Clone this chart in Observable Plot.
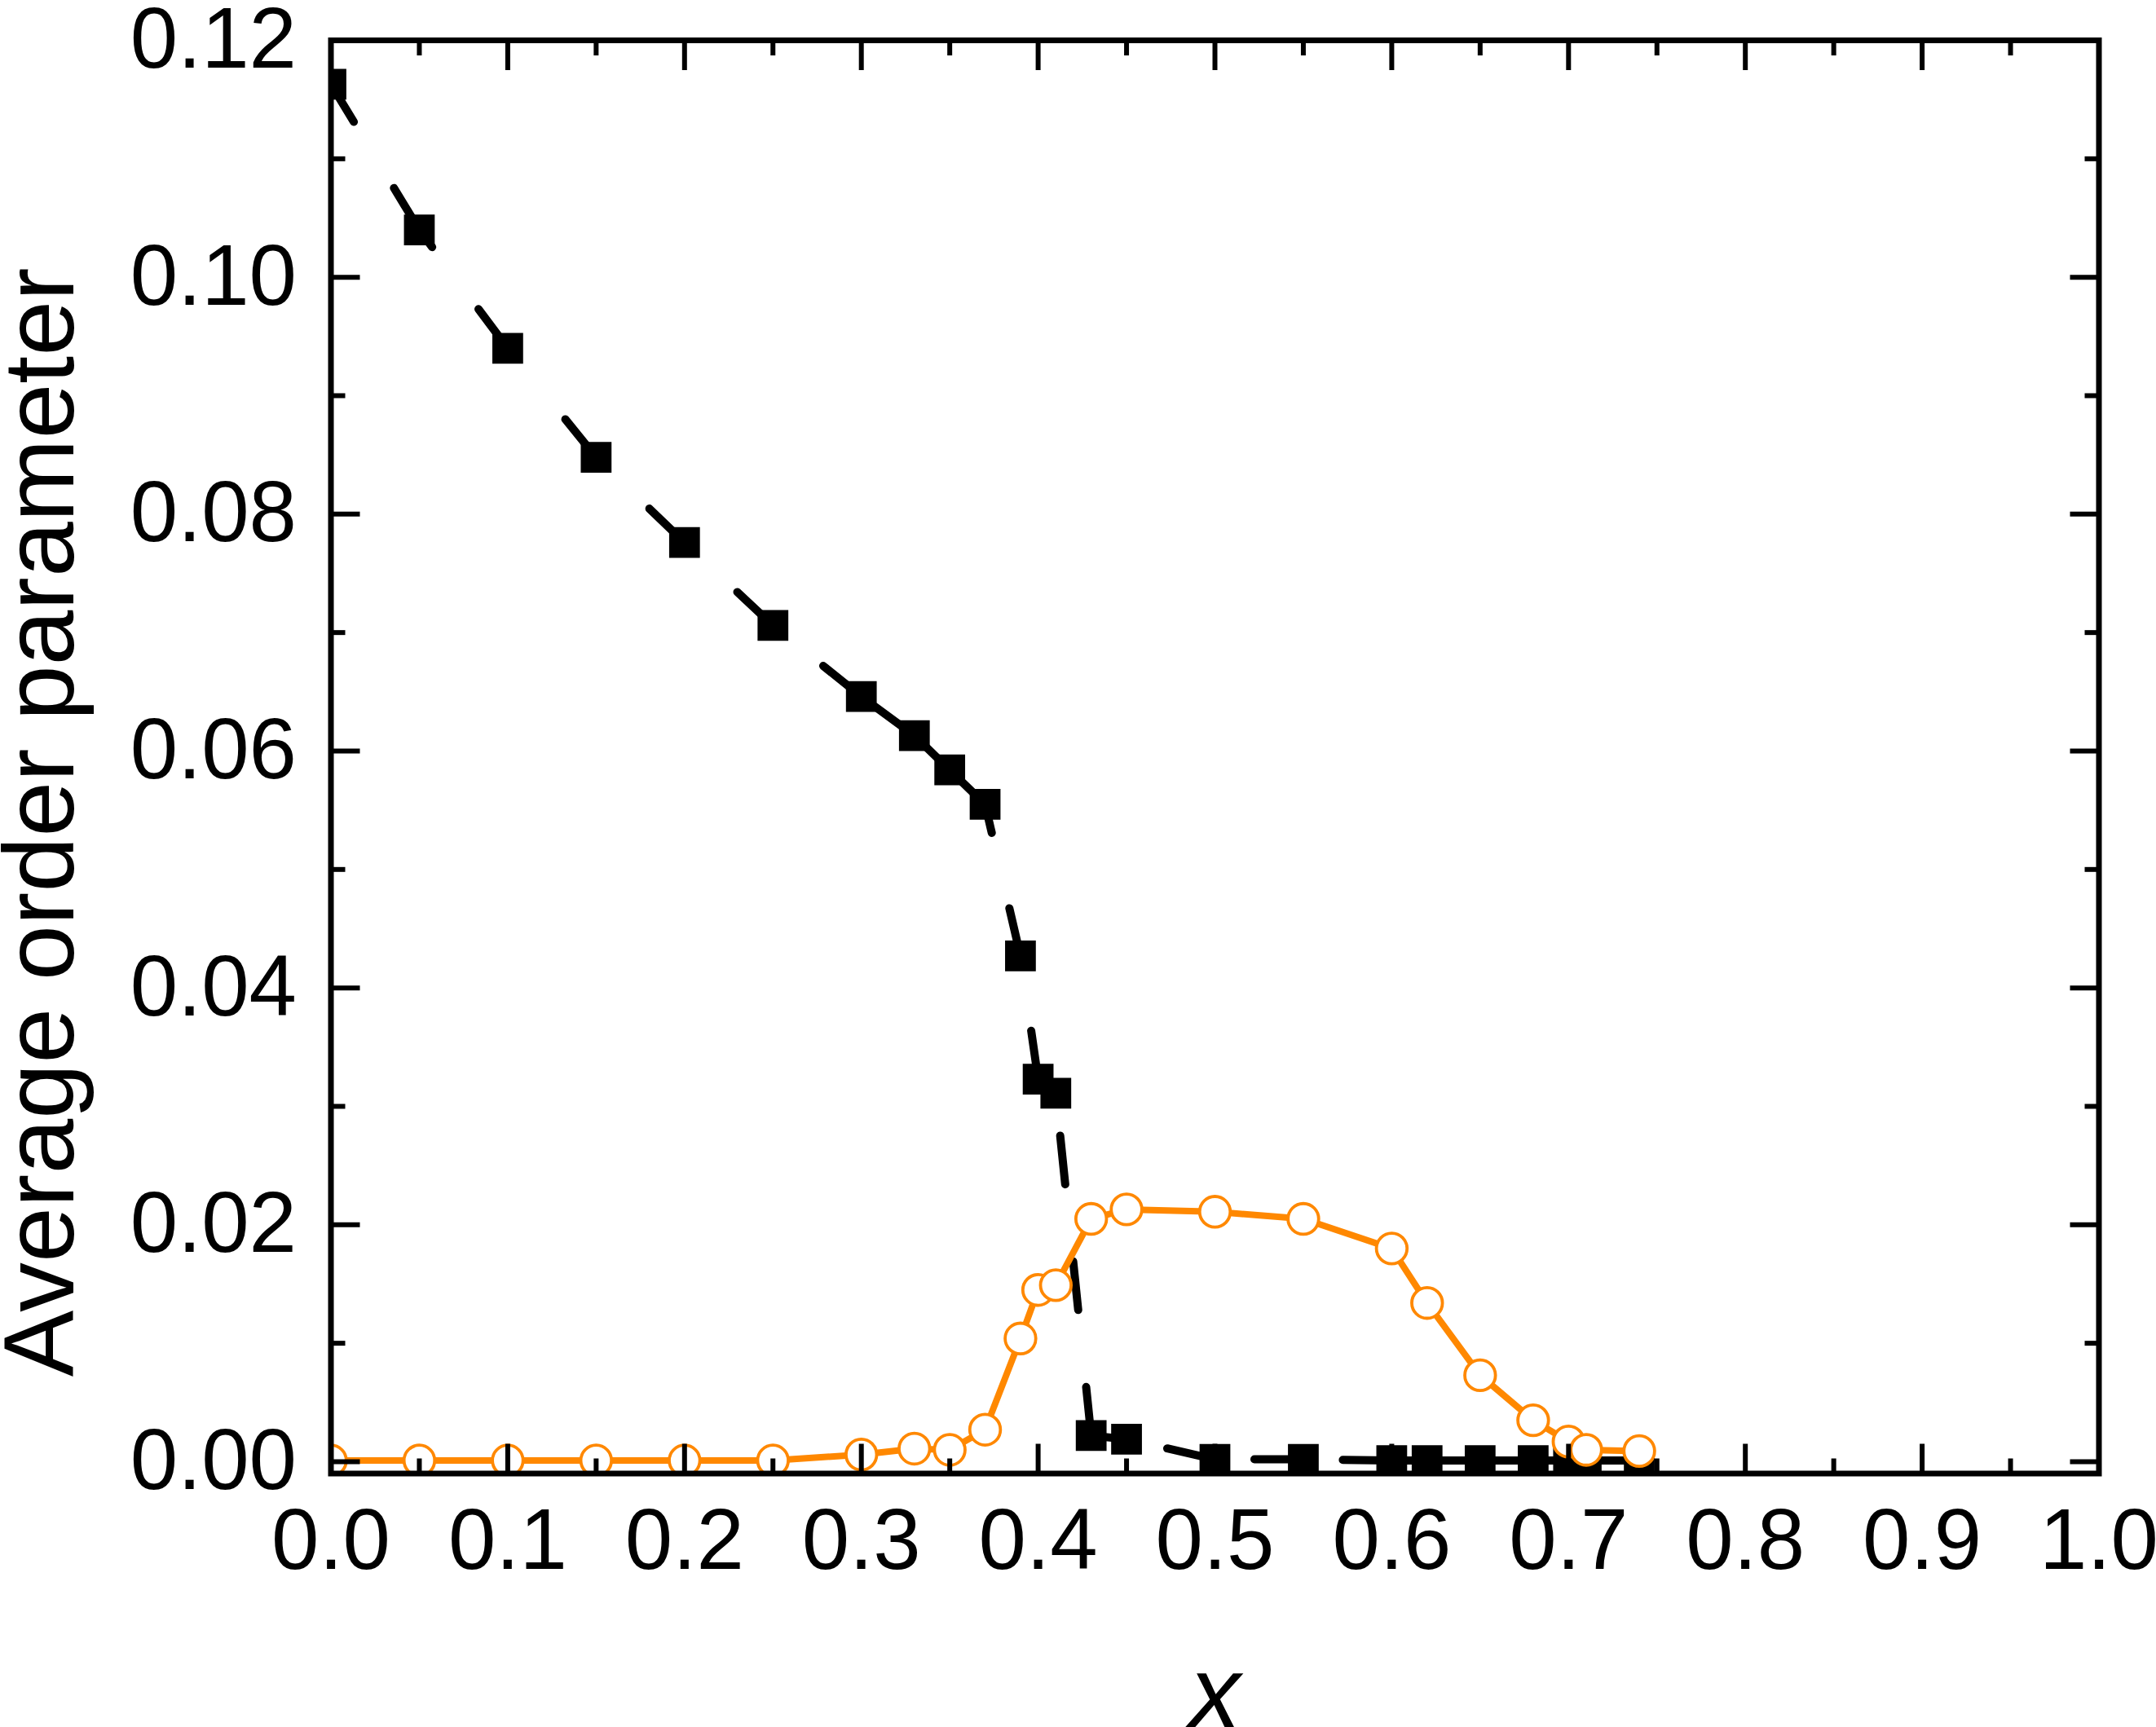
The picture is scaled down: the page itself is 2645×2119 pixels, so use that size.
<!DOCTYPE html>
<html>
<head>
<meta charset="utf-8">
<script src="https://cdn.jsdelivr.net/npm/d3@7"></script>
<script src="https://cdn.jsdelivr.net/npm/@observablehq/plot@0.6"></script>
<style>
  html, body { margin: 0; padding: 0; background: #ffffff; }
  #chart svg { display: block; }
</style>
</head>
<body>
<div id="chart"></div>
<script>
// ---- data ----
const xValues = [0, 0.05, 0.1, 0.15, 0.2, 0.25, 0.3, 0.33, 0.35, 0.37, 0.39, 0.40, 0.41, 0.43, 0.45, 0.5, 0.55, 0.6, 0.62, 0.65, 0.68, 0.70, 0.71, 0.74];
const blackValues = [0.1163, 0.1040, 0.0940, 0.0848, 0.0776, 0.0706, 0.0646, 0.0613, 0.0584, 0.0555, 0.0427, 0.0323, 0.0311, 0.0022, 0.0019, 0.0002, 0.0002, 0.0001, 0.0001, 0.0001, 0.0001, 0.0001, 0.0001, 0.0001];
const orangeValues = [0.0001, 0.0001, 0.0001, 0.0001, 0.0001, 0.0001, 0.0006, 0.0011, 0.0010, 0.0027, 0.0104, 0.0145, 0.0149, 0.0205, 0.0213, 0.0211, 0.0205, 0.0180, 0.0134, 0.0073, 0.0035, 0.0017, 0.0010, 0.0009];

const xMajorTicks = [0, 0.1, 0.2, 0.3, 0.4, 0.5, 0.6, 0.7, 0.8, 0.9, 1.0];
const xMinorTicks = [0.05, 0.15, 0.25, 0.35, 0.45, 0.55, 0.65, 0.75, 0.85, 0.95];
const xTickLabels = ["0.0", "0.1", "0.2", "0.3", "0.4", "0.5", "0.6", "0.7", "0.8", "0.9", "1.0"];
const yMajorTicks = [0, 0.02, 0.04, 0.06, 0.08, 0.10, 0.12];
const yMinorTicks = [0.01, 0.03, 0.05, 0.07, 0.09, 0.11];
const yTickLabels = ["0.00", "0.02", "0.04", "0.06", "0.08", "0.10", "0.12"];
const xTitle = "x";
const yTitle = "Average order parameter";

// ---- tables built from the arrays ----
const blackPts = xValues.map((x, i) => ({x, y: blackValues[i]}));
const orangePts = xValues.map((x, i) => ({x, y: orangeValues[i]}));
// each segment drawn from the later point back to the earlier one
const blackSegs = xValues.slice(1).map((x, i) => ({x1: x, y1: blackValues[i + 1], x2: xValues[i], y2: blackValues[i]}));

const FONT = "'Liberation Sans', Arial, Helvetica, sans-serif";
const ORANGE = "#ff8800";
const MAJ = 36, MIN = 18, TW = 6;

function tickOnlyX(anchor, ticks, size) {
  return Plot.axisX({anchor, ticks, tickSize: size, fill: "none", label: null, strokeWidth: TW,
    tickFormat: () => "", dy: anchor === "bottom" ? -size : size});
}
function tickOnlyY(anchor, ticks, size) {
  return Plot.axisY({anchor, ticks, tickSize: size, fill: "none", label: null, strokeWidth: TW,
    tickFormat: () => "", dx: anchor === "left" ? size : -size});
}

const chart = Plot.plot({
  width: 2645,
  height: 2119,
  marginLeft: 405.5,
  marginRight: 70.5,
  marginTop: 49,
  marginBottom: 311.5,
  style: {fontFamily: FONT, background: "white", color: "black", overflow: "visible"},
  x: {domain: [0, 1]},
  y: {domain: [-0.001, 0.12]},
  marks: [
    Plot.link(blackSegs, {x1: "x1", y1: "y1", x2: "x2", y2: "y2", stroke: "black", strokeWidth: 10,
      strokeDasharray: "60,95", strokeLinecap: "round", clip: true}),
    Plot.dot(blackPts, {x: "x", y: "y", symbol: "square", r: 21.3, fill: "black", stroke: "none", clip: true}),
    Plot.line(orangePts, {x: "x", y: "y", stroke: ORANGE, strokeWidth: 8, clip: true}),
    Plot.dot(orangePts, {x: "x", y: "y", r: 18.8, fill: "white", stroke: ORANGE, strokeWidth: 3.8, clip: true}),
    Plot.frame({stroke: "black", strokeWidth: 7}),
    tickOnlyX("bottom", xMajorTicks, MAJ),
    tickOnlyX("bottom", xMinorTicks, MIN),
    tickOnlyX("top", xMajorTicks, MAJ),
    tickOnlyX("top", xMinorTicks, MIN),
    tickOnlyY("left", yMajorTicks, MAJ),
    tickOnlyY("left", yMinorTicks, MIN),
    tickOnlyY("right", yMajorTicks, MAJ),
    tickOnlyY("right", yMinorTicks, MIN),
    Plot.axisX({anchor: "bottom", ticks: xMajorTicks, tickSize: 0, tickPadding: 42, fontSize: 105,
      tickFormat: d => xTickLabels[xMajorTicks.indexOf(d)], label: null}),
    Plot.axisY({anchor: "left", ticks: yMajorTicks, tickSize: 0, tickPadding: 42, fontSize: 105,
      tickFormat: d => yTickLabels[yMajorTicks.indexOf(d)], label: null}),
    Plot.text([yTitle], {frameAnchor: "left", text: d => d, rotate: -90, dx: -355.5, dy: 80,
      fontSize: 122, textAnchor: "middle", lineAnchor: "middle", fill: "black"}),
    Plot.text([xTitle], {frameAnchor: "bottom", text: d => d, dy: 270.5, fontSize: 125,
      fontStyle: "italic", textAnchor: "middle", lineAnchor: "middle", fill: "black"})
  ]
});
document.getElementById("chart").appendChild(chart);
</script>
</body>
</html>
